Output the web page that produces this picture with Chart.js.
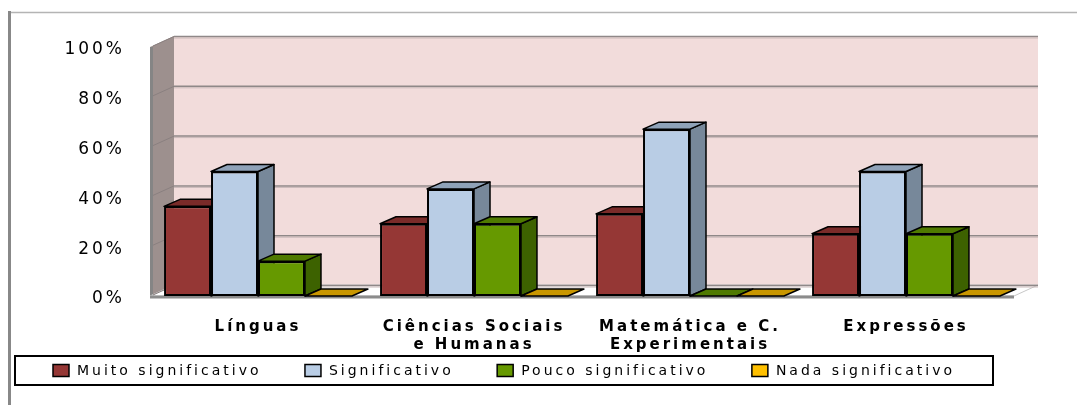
<!DOCTYPE html>
<html>
<head>
<meta charset="utf-8">
<script src="https://cdn.jsdelivr.net/npm/chart.js@4.4.0/dist/chart.umd.min.js"></script>
<style>
  html, body { margin: 0; padding: 0; background: #fff; }
  #wrap { width: 1077px; height: 405px; }
</style>
</head>
<body>
<div id="wrap"><canvas id="grafico" width="1077" height="405"></canvas></div>
<script>
const categorias = ['Línguas', ['Ciências Sociais', 'e Humanas'], ['Matemática e C.', 'Experimentais'], 'Expressões']
const series = ['Muito significativo', 'Significativo', 'Pouco significativo', 'Nada significativo']
const muitoSignificativo = [36, 29, 33, 25]
const significativo = [50, 43, 67, 50]
const poucoSignificativo = [14, 29, 0, 25]
const nadaSignificativo = [0, 0, 0, 0]
const ticksY = [0, 20, 40, 60, 80, 100]

const coresFrente = ['#953735', '#b9cde5', '#669900', '#ffc000']
const coresTopo = ['#7a2b29', '#8fa2b8', '#4f7a00', '#c99700']
const coresLado = ['#5c1f1d', '#77889a', '#3d6200', '#8a6800']

// profundidade das paredes e das barras
const PX = 24, PY = -11
const BX = 16, BY = -7
const ESPACO = '3px'

function poly(ctx, pts, fill, stroke, lw) {
    ctx.beginPath()
    ctx.moveTo(pts[0][0], pts[0][1])
    for (let k = 1; k < pts.length; k++) ctx.lineTo(pts[k][0], pts[k][1])
    ctx.closePath()
    if (fill) { ctx.fillStyle = fill; ctx.fill() }
    if (stroke) { ctx.strokeStyle = stroke; ctx.lineWidth = lw || 1; ctx.stroke() }
}

const efeito3d = {
    id: 'efeito3d',
    beforeLayout(chart) {
        chart.ctx.letterSpacing = ESPACO
    },
    beforeDraw(chart) {
        const {ctx, chartArea: {left, right}, scales: {y}} = chart
        ctx.letterSpacing = ESPACO
        const topo = y.getPixelForValue(100)
        const base = y.getPixelForValue(0)
        ctx.save()
        ctx.fillStyle = '#fff'
        ctx.fillRect(0, 0, chart.width, chart.height)

        // moldura exterior
        ctx.strokeStyle = '#b4b4b4'
        ctx.lineWidth = 1.5
        ctx.beginPath(); ctx.moveTo(10, 12.5); ctx.lineTo(chart.width, 12.5); ctx.stroke()
        ctx.strokeStyle = '#888'
        ctx.lineWidth = 3
        ctx.beginPath(); ctx.moveTo(9.5, 11); ctx.lineTo(9.5, chart.height); ctx.stroke()

        // parede do fundo
        ctx.fillStyle = '#f2dcdb'
        ctx.fillRect(left + PX, topo + PY, right - left, base - topo)
        // parede lateral
        poly(ctx, [[left, topo], [left + PX, topo + PY], [left + PX, base + PY], [left, base]], '#9d908e')
        ctx.fillStyle = '#858585'
        ctx.fillRect(left, topo, 3, base - topo)
        // chao
        poly(ctx, [[left, base], [right, base], [right + PX, base + PY], [left + PX, base + PY]], '#fff', '#c8c8c8', 1)

        // grelha
        y.ticks.forEach(t => {
            const py = y.getPixelForValue(t.value)
            ctx.strokeStyle = '#8f8888'
            ctx.lineWidth = 1.5
            ctx.beginPath()
            ctx.moveTo(left + PX, py + PY + 0.5)
            ctx.lineTo(right + PX, py + PY + 0.5)
            ctx.stroke()
            ctx.strokeStyle = '#c9b9b9'
            ctx.lineWidth = 1
            ctx.beginPath()
            ctx.moveTo(left + PX, py + PY + 2)
            ctx.lineTo(right + PX, py + PY + 2)
            ctx.stroke()
            ctx.strokeStyle = '#8a8080'
            ctx.lineWidth = 1
            ctx.beginPath()
            ctx.moveTo(left + 3, py - 1)
            ctx.lineTo(left + PX, py + PY + 0.5)
            ctx.stroke()
        })
        ctx.strokeStyle = '#8c8c8c'
        ctx.lineWidth = 3
        ctx.beginPath(); ctx.moveTo(left, base + 1); ctx.lineTo(right, base + 1); ctx.stroke()
        ctx.restore()
    },
    beforeDatasetsDraw(chart) {
        const {ctx} = chart
        ctx.save()
        ctx.lineJoin = 'round'
        categorias.forEach((c, j) => {
            chart.data.datasets.forEach((ds, i) => {
                const bar = chart.getDatasetMeta(i).data[j]
                if (!bar) return
                const {x, y, base, width} = bar.getProps(['x', 'y', 'base', 'width'], true)
                const l = x - width / 2, r = x + width / 2
                if (base - y > 0.5) {
                    poly(ctx, [[r, y], [r + BX, y + BY], [r + BX, base + BY], [r, base]], coresLado[i], '#000', 1.5)
                }
                poly(ctx, [[l, y], [r, y], [r + BX, y + BY], [l + BX, y + BY]], coresTopo[i], '#000', 1.5)
            })
        })
        ctx.restore()
    },
    afterDraw(chart) {
        const {ctx, scales: {x}} = chart
        ctx.save()
        ctx.letterSpacing = ESPACO
        const caixa = {left: 15, right: 993, top: x.bottom + 2, bottom: x.bottom + 31}
        ctx.strokeStyle = '#000'
        ctx.lineWidth = 2
        ctx.strokeRect(caixa.left, caixa.top, caixa.right - caixa.left, caixa.bottom - caixa.top)

        ctx.font = '14px "DejaVu Sans"'
        ctx.textBaseline = 'middle'
        ctx.textAlign = 'left'
        const margem = 38, quadrado = 16, folga = 8
        const larguras = series.map(s => quadrado + folga + ctx.measureText(s).width)
        const total = larguras.reduce((a, b) => a + b, 0)
        const gap = (caixa.right - caixa.left - 2 * margem - total) / (series.length - 1)
        const cy = (caixa.top + caixa.bottom) / 2
        let px = caixa.left + margem
        series.forEach((s, i) => {
            ctx.fillStyle = coresFrente[i]
            ctx.fillRect(px, cy - 6, quadrado, 12)
            ctx.strokeStyle = '#000'
            ctx.lineWidth = 1.5
            ctx.strokeRect(px, cy - 6, quadrado, 12)
            ctx.fillStyle = '#000'
            ctx.fillText(s, px + quadrado + folga, cy + 1)
            px += larguras[i] + gap
        })
        ctx.restore()
    }
}

const valores = [muitoSignificativo, significativo, poucoSignificativo, nadaSignificativo]

const data = {
    labels: categorias,
    datasets: series.map((s, i) => ({
        label: s,
        data: valores[i],
        backgroundColor: coresFrente[i],
        borderColor: '#000',
        borderWidth: 2,
        borderSkipped: false,
        categoryPercentage: 0.87,
        barPercentage: 1
    }))
}

const options = {
    responsive: false,
    animation: false,
    layout: { padding: { left: 0, right: 63, top: 47, bottom: 51 } },
    plugins: {
        legend: { display: false },
        tooltip: { enabled: false }
    },
    scales: {
        x: {
            grid: { display: false, drawTicks: false },
            border: { display: false },
            ticks: {
                color: '#000',
                padding: 22,
                maxRotation: 0,
                font: { family: 'DejaVu Sans', size: 15, weight: 'bold' }
            },
            afterFit(scale) { scale.height = 58 }
        },
        y: {
            min: 0,
            max: 100,
            grid: { display: false, drawTicks: false },
            border: { display: false },
            afterBuildTicks(scale) { scale.ticks = ticksY.map(v => ({ value: v })) },
            ticks: {
                color: '#000',
                padding: 25,
                labelOffset: 3,
                font: { family: 'DejaVu Sans', size: 17 },
                callback: v => v + '%'
            },
            afterFit(scale) { scale.width = 150 }
        }
    }
}

const grafico = new Chart(document.getElementById('grafico'), {
    type: 'bar',
    data,
    options,
    plugins: [efeito3d]
})
</script>
</body>
</html>
